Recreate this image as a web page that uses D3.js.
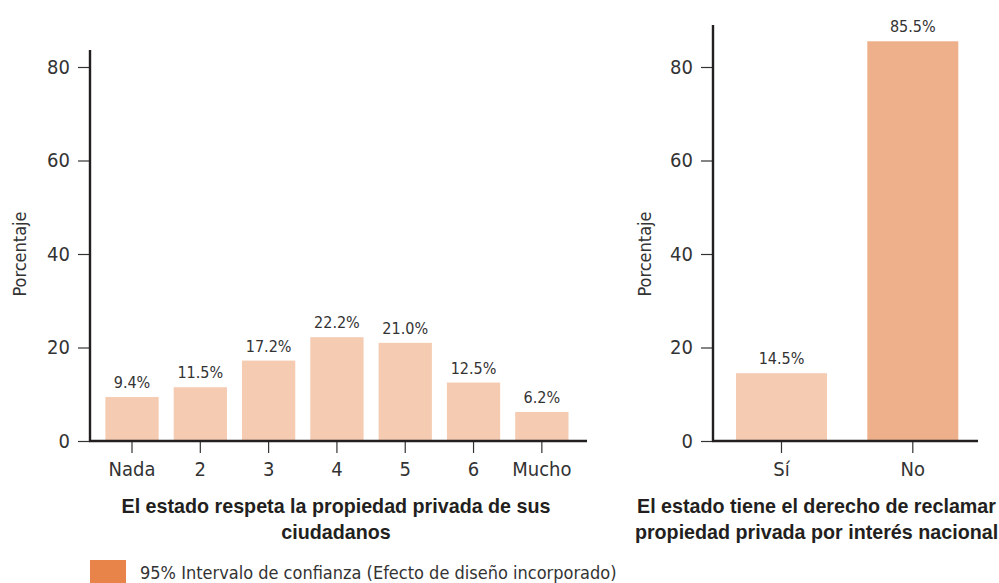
<!DOCTYPE html>
<html><head><meta charset="utf-8">
<script src="https://cdn.jsdelivr.net/npm/d3@7"></script>
<style>
body{margin:0;background:#fff;}
svg{display:block;}
</style></head>
<body>
<svg id="c" width="999" height="583"></svg>
<script>
const leftCategories = ["Nada","2","3","4","5","6","Mucho"];
const leftValues = [9.4, 11.5, 17.2, 22.2, 21.0, 12.5, 6.2];
const leftLabels = ["9.4%","11.5%","17.2%","22.2%","21.0%","12.5%","6.2%"];
const rightCategories = ["Sí","No"];
const rightValues = [14.5, 85.5];
const rightLabels = ["14.5%","85.5%"];
const yTicks = [0,20,40,60,80];
const leftTitle = ["El estado respeta la propiedad privada de sus","ciudadanos"];
const rightTitle = ["El estado tiene el derecho de reclamar","propiedad privada por interés nacional"];
const yLabel = "Porcentaje";
const legendText = "95% Intervalo de confianza (Efecto de diseño incorporado)";

const svg = d3.select("#c");
const txt = "#231f20";
const y = d3.scaleLinear().domain([0,80]).range([441,67]);
const fontN = '"Liberation Sans Narrow","Arial Narrow","DejaVu Sans Condensed",sans-serif';
const fontB = '"Liberation Sans",Arial,sans-serif';

function panel(opts){
  const g = svg.append("g");
  const x = d3.scaleBand().domain(opts.cats).range(opts.xr)
    .paddingInner(opts.pi).paddingOuter(opts.po);
  g.selectAll("rect.bar").data(opts.vals).enter().append("rect")
    .attr("x",(d,i)=>x(opts.cats[i])).attr("width",x.bandwidth())
    .attr("y",d=>y(d)).attr("height",d=>y(0)-y(d))
    .attr("fill",(d,i)=>opts.colors[i]);
  g.selectAll("text.val").data(opts.vals).enter().append("text")
    .attr("x",(d,i)=>x(opts.cats[i])+x.bandwidth()/2)
    .attr("y",d=>y(d)-9).attr("text-anchor","middle")
    .style("font-family",fontN).style("font-size","16px").attr("fill","#333")
    .text((d,i)=>opts.labels[i]);
  const ya = d3.axisLeft(y).tickValues(yTicks).tickSize(12).tickPadding(8);
  const gy = g.append("g").attr("transform",`translate(${opts.ax},0)`).call(ya);
  gy.select(".domain").remove();
  gy.selectAll(".tick line").attr("stroke","#333").attr("stroke-width",1.2);
  gy.selectAll(".tick text").style("font-family",fontN).style("font-size","20px").attr("fill","#333");
  g.append("line").attr("x1",opts.ax).attr("x2",opts.ax).attr("y1",opts.top).attr("y2",y(0)+1)
    .attr("stroke",txt).attr("stroke-width",2.4);
  const xa = d3.axisBottom(x).tickSize(12).tickPadding(9);
  const gx = g.append("g").attr("transform",`translate(0,${y(0)})`).call(xa);
  gx.select(".domain").remove();
  gx.selectAll(".tick line").attr("stroke","#333").attr("stroke-width",1.2);
  gx.selectAll(".tick text").style("font-family",fontN).style("font-size","20px").attr("fill","#333").attr("dy","0.72em");
  g.append("line").attr("x1",opts.ax-1).attr("x2",opts.xend).attr("y1",y(0)).attr("y2",y(0))
    .attr("stroke",txt).attr("stroke-width",2.4);
  g.append("text").attr("transform",`translate(${opts.ylx},${y(40)}) rotate(-90)`)
    .attr("text-anchor","middle").style("font-family",fontN).style("font-size","18px").attr("fill","#333")
    .text(yLabel);
  const t = g.append("text").attr("text-anchor","middle").style("font-family",fontB)
    .style("font-size","19.7px").style("font-weight","bold").attr("fill",txt);
  opts.title.forEach((s,i)=>t.append("tspan").attr("x",opts.tx).attr("y",513+i*25.5).text(s));
}

panel({cats:leftCategories, vals:leftValues, labels:leftLabels,
  colors:leftValues.map(()=>"#f5cbb1"), xr:[97.85,576], pi:0.22, po:0.11,
  ax:90, top:50, xend:587, ylx:26, title:leftTitle, tx:336});
panel({cats:rightCategories, vals:rightValues, labels:rightLabels,
  colors:["#f5cbb1","#eeb08a"], xr:[736,958.3], pi:0.307, po:0.0,
  ax:713, top:25, xend:978, ylx:651, title:rightTitle, tx:816.5});

svg.append("rect").attr("x",90).attr("y",560).attr("width",36).attr("height",24).attr("fill","#e8834a");
svg.append("text").attr("x",140).attr("y",579).style("font-family",fontN).style("font-size","18px")
  .attr("fill","#333").text(legendText);
</script>
</body></html>
